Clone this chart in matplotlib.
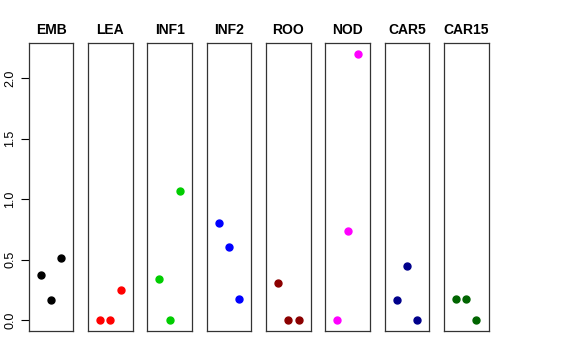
import numpy as np
import matplotlib
matplotlib.use("Agg")
import matplotlib.pyplot as plt

plt.rcParams['font.family'] = ['Liberation Sans', 'DejaVu Sans']

# panel names and colours
groups = ['EMB', 'LEA', 'INF1', 'INF2', 'ROO', 'NOD', 'CAR5', 'CAR15']
colors = ['#000000', '#FF0000', '#00CD00', '#0000FF', '#8B0000', '#FF00FF', '#00008B', '#006400']

# three values per panel, plotted at x = 1, 2, 3
values = [
    [0.376, 0.165, 0.511],
    [0.0, 0.0, 0.25],
    [0.343, 0.0, 1.068],
    [0.805, 0.602, 0.178],
    [0.307, 0.0, 0.0],
    [0.0, 0.734, 2.2],
    [0.165, 0.445, 0.0],
    [0.173, 0.178, 0.0],
]
xpos = [1, 2, 3]
yticks = [0.0, 0.5, 1.0, 1.5, 2.0]

fig = plt.figure(figsize=(5.76, 3.6), dpi=100)

ymax = 2.2
pad = ymax * 0.04
left0 = 28.7 / 576
width = 44.7 / 576
step = 59.3 / 576
bottom = 1 - 331 / 360
height = (331 - 43.3) / 360

for i, (name, col, vals) in enumerate(zip(groups, colors, values)):
    ax = fig.add_axes([left0 + i * step, bottom, width, height])
    ax.plot(xpos, vals, 'o', color=col, ms=5, mec=col)
    ax.set_xlim(-0.16, 4.16)
    ax.set_ylim(-pad, ymax + pad)
    ax.set_xticks([])
    ax.set_title(name, fontsize=10, fontweight='bold', pad=7)
    for s in ax.spines.values():
        s.set_linewidth(0.9)
        s.set_color('#333333')
    if i == 0:
        ax.set_yticks(yticks)
        ax.set_yticklabels([f'{t:.1f}' for t in yticks], rotation=90, va='center', fontsize=9)
        ax.tick_params(axis='y', length=6, width=0.8, pad=3)
    else:
        ax.set_yticks([])

fig.savefig('out.png', dpi=100)
